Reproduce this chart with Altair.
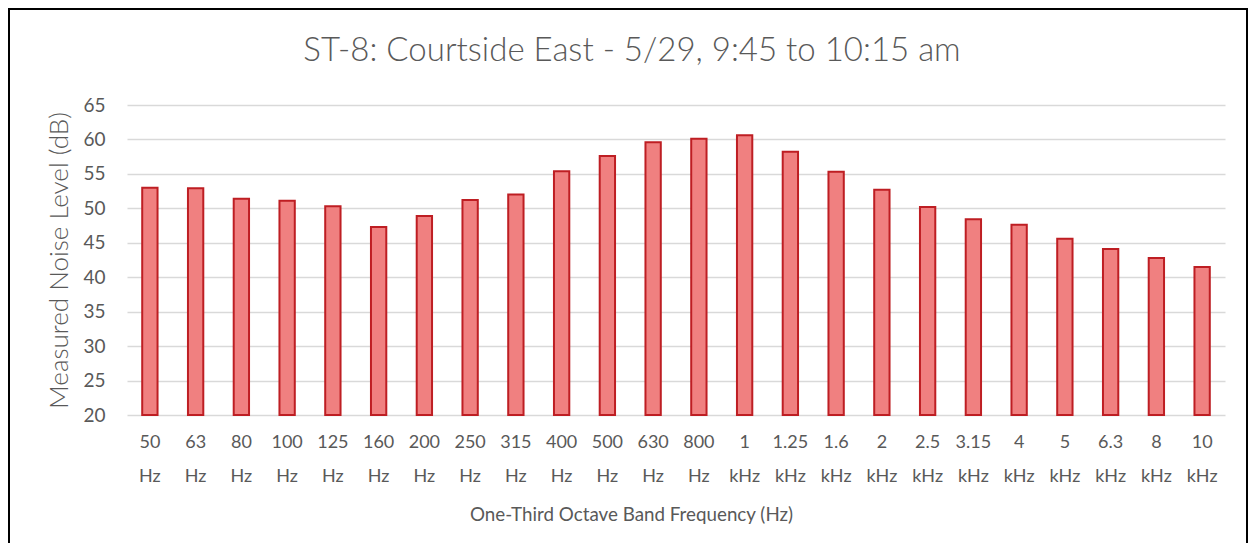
import altair as alt
import pandas as pd

bands = ["50 Hz", "63 Hz", "80 Hz", "100 Hz", "125 Hz", "160 Hz", "200 Hz", "250 Hz",
         "315 Hz", "400 Hz", "500 Hz", "630 Hz", "800 Hz", "1 kHz", "1.25 kHz", "1.6 kHz",
         "2 kHz", "2.5 kHz", "3.15 kHz", "4 kHz", "5 kHz", "6.3 kHz", "8 kHz", "10 kHz"]
levels = [53.0, 52.9, 51.4, 51.1, 50.3, 47.3, 48.9, 51.2, 52.0, 55.4, 57.6, 59.6,
          60.1, 60.6, 58.2, 55.3, 52.7, 50.2, 48.4, 47.6, 45.6, 44.1, 42.8, 41.5]
y_ticks = [20, 25, 30, 35, 40, 45, 50, 55, 60, 65]

title_text = "ST-8: Courtside East - 5/29, 9:45 to 10:15 am"
x_title = "One-Third Octave Band Frequency (Hz)"
y_title = "Measured Noise Level (dB)"

df = pd.DataFrame({"band": bands, "level": levels})

W, H = 1098, 310
FONT = "Lato"
GREY = "#595959"

bars = alt.Chart(df).mark_bar(
    width=alt.RelativeBandSize(0.335),
    fill="#F08080",
    stroke="#BE1E23",
    strokeWidth=2,
).encode(
    x=alt.X("band:N", sort=bands, title=x_title,
            scale=alt.Scale(paddingInner=0, paddingOuter=0),
            axis=alt.Axis(labelAngle=0, labelExpr="split(datum.label, ' ')",
                          labelFontSize=18, labelLineHeight=34, labelPadding=18,
                          labelColor=GREY, labelFont=FONT, ticks=False, domain=False,
                          titleFontSize=18.8, titleFont=FONT, titleColor=GREY,
                          titleFontWeight="normal", titleX=504, titleY=99,
                          titleBaseline="middle", titleAnchor="middle")),
    y=alt.Y("level:Q", title=y_title,
            scale=alt.Scale(domain=[20, 65], zero=False, nice=False),
            axis=alt.Axis(values=y_ticks, labelFontSize=19, labelPadding=22,
                          labelColor=GREY, labelFont=FONT, ticks=False, domain=False,
                          gridColor="#D9D9D9", gridWidth=1.5,
                          titleFontSize=26, titleFont=FONT, titleColor=GREY,
                          titleFontWeight=300, titleX=-68, titleY=155,
                          titleBaseline="middle", titleAnchor="middle", titleAngle=-90)),
    y2=alt.datum(20),
)

frame = alt.Chart(alt.Data(values=[{}])).mark_rect(
    fillOpacity=0, stroke="black", strokeWidth=2
).encode(
    x=alt.value(-118), x2=alt.value(1120), y=alt.value(-96), y2=alt.value(600)
)

title = alt.Chart(alt.Data(values=[{}])).mark_text(
    font=FONT, fontSize=33, fontWeight=300, color=GREY, align="center", baseline="alphabetic"
).encode(
    x=alt.value(505), y=alt.value(-44), text=alt.value(title_text)
)

chart = alt.layer(frame, bars, title).properties(
    width=W, height=H,
    autosize=alt.AutoSizeParams(type="none"),
    padding={"left": 119, "top": 97, "right": 23, "bottom": 128},
    background="white",
).configure_view(stroke=None)

chart.save("out.html", embed_options={"renderer": "svg", "actions": False})
